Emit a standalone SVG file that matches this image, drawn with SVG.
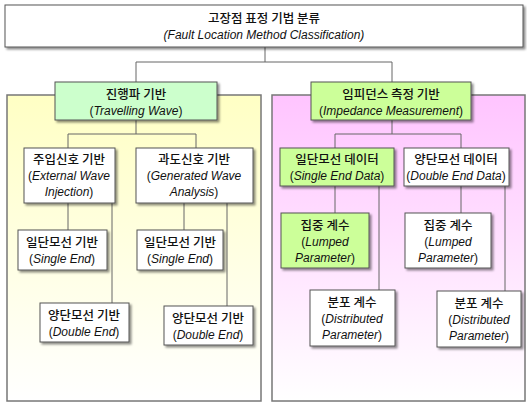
<svg xmlns="http://www.w3.org/2000/svg" width="527" height="403" viewBox="0 0 527 403">
<defs>
<linearGradient id="gy" x1="0" y1="0" x2="0" y2="1"><stop offset="0" stop-color="#ffffc4"/><stop offset="1" stop-color="#ffffff"/></linearGradient>
<linearGradient id="gp" x1="0" y1="0" x2="0" y2="1"><stop offset="0" stop-color="#ffc4ff"/><stop offset="1" stop-color="#ffffff"/></linearGradient>
<filter id="sh" x="-10%" y="-10%" width="130%" height="140%"><feDropShadow dx="2" dy="2" stdDeviation="1" flood-color="#000" flood-opacity="0.45"/></filter>
<style>
.box{stroke:#555;stroke-width:1;filter:url(#sh)}
.w{fill:#fff}.g1{fill:#ccffcc}.g2{fill:#ccff99}
.panel{stroke:#777;stroke-width:1.5}
.c{fill:none;stroke:#666;stroke-width:1}
text{font-family:"Liberation Sans","Noto Sans CJK KR",sans-serif;font-size:12px;fill:#111;text-anchor:middle}
.k{font-size:12.5px;font-family:"Noto Sans CJK KR","Liberation Sans",sans-serif;font-weight:500}
.i{font-style:italic}
</style>
</defs>
<rect x="7" y="95" width="254" height="306" fill="url(#gy)" class="panel"/>
<rect x="272" y="95" width="253" height="306" fill="url(#gp)" class="panel"/>
<g id="connectors">
<path class="c" d="M265 47V62M136 62H392M136 62V82M392 62V82"/>
<path class="c" d="M136 120V134M68 134H196M68 134V148M196 134V148"/>
<path class="c" d="M68 203V230M112 203V303M184 203V230M227 203V306"/>
<path class="c" d="M392 120V134M335 134H461M335 134V148M461 134V148"/>
<path class="c" d="M335 186V213M379 186V290M461 186V213M505 186V291"/>
</g>
<g id="root"><rect x="5" y="5" width="518" height="42" class="box w"/><text x="264" y="23" class="k">고장점 표정 기법 분류</text><text x="264" y="39" class="i">(Fault Location Method Classification)</text></g>
<g id="tw"><rect x="55" y="82" width="162" height="38" class="box g1"/><text x="136" y="99" class="k">진행파 기반</text><text x="136" y="115">(<tspan class="i">Travelling Wave</tspan>)</text></g>
<g id="im"><rect x="311" y="82" width="160" height="38" class="box g2"/><text x="391" y="99" class="k">임피던스 측정 기반</text><text x="391" y="115">(<tspan class="i">Impedance Measurement</tspan>)</text></g>
<g id="ext"><rect x="24" y="148" width="91" height="55" class="box w"/><text x="69" y="164" class="k">주입신호 기반</text><text x="69" y="180">(<tspan class="i">External Wave</tspan></text><text x="69" y="196"><tspan class="i">Injection</tspan>)</text></g>
<g id="gen"><rect x="136" y="148" width="117" height="55" class="box w"/><text x="194" y="164" class="k">과도신호 기반</text><text x="194" y="180">(<tspan class="i">Generated Wave</tspan></text><text x="194" y="196"><tspan class="i">Analysis</tspan>)</text></g>
<g id="se1"><rect x="18" y="230" width="89" height="40" class="box w"/><text x="62" y="247" class="k">일단모선 기반</text><text x="62" y="263">(<tspan class="i">Single End</tspan>)</text></g>
<g id="de1"><rect x="40" y="303" width="89" height="39" class="box w"/><text x="84" y="320" class="k">양단모선 기반</text><text x="84" y="336">(<tspan class="i">Double End</tspan>)</text></g>
<g id="se2"><rect x="137" y="230" width="86" height="40" class="box w"/><text x="180" y="247" class="k">일단모선 기반</text><text x="180" y="263">(<tspan class="i">Single End</tspan>)</text></g>
<g id="de2"><rect x="164" y="306" width="89" height="39" class="box w"/><text x="208" y="323" class="k">양단모선 기반</text><text x="208" y="339">(<tspan class="i">Double End</tspan>)</text></g>
<g id="sed"><rect x="280" y="148" width="114" height="38" class="box g2"/><text x="337" y="164" class="k">일단모선 데이터</text><text x="337" y="180">(<tspan class="i">Single End Data</tspan>)</text></g>
<g id="ded"><rect x="404" y="148" width="105" height="38" class="box w"/><text x="456" y="164" class="k">양단모선 데이터</text><text x="456" y="180">(<tspan class="i">Double End Data</tspan>)</text></g>
<g id="lp1"><rect x="281" y="213" width="88" height="55" class="box g2"/><text x="325" y="230" class="k">집중 계수</text><text x="325" y="246">(<tspan class="i">Lumped</tspan></text><text x="325" y="262"><tspan class="i">Parameter</tspan>)</text></g>
<g id="lp2"><rect x="405" y="213" width="86" height="55" class="box w"/><text x="448" y="230" class="k">집중 계수</text><text x="448" y="246">(<tspan class="i">Lumped</tspan></text><text x="448" y="262"><tspan class="i">Parameter</tspan>)</text></g>
<g id="dp1"><rect x="310" y="290" width="85" height="56" class="box w"/><text x="352" y="307" class="k">분포 계수</text><text x="352" y="323">(<tspan class="i">Distributed</tspan></text><text x="352" y="339"><tspan class="i">Parameter</tspan>)</text></g>
<g id="dp2"><rect x="437" y="291" width="84" height="56" class="box w"/><text x="479" y="308" class="k">분포 계수</text><text x="479" y="324">(<tspan class="i">Distributed</tspan></text><text x="479" y="340"><tspan class="i">Parameter</tspan>)</text></g>
</svg>
